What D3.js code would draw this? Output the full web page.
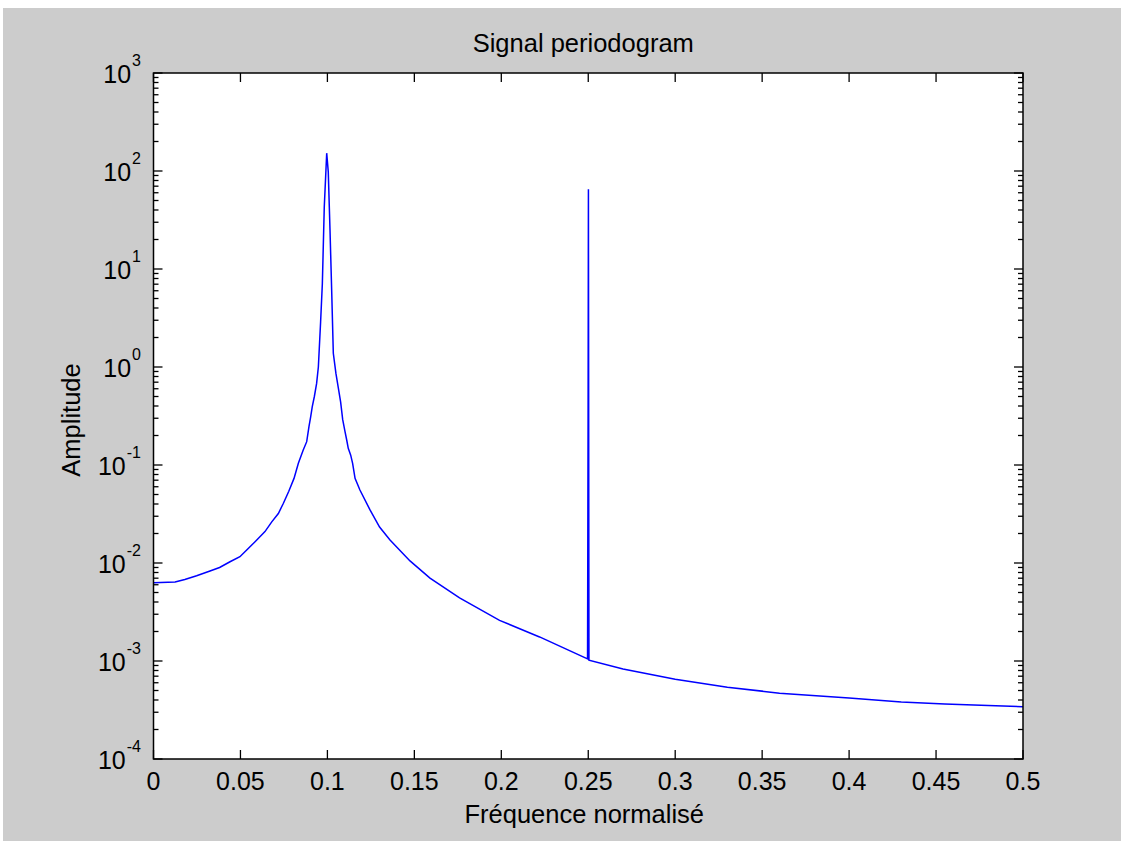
<!DOCTYPE html>
<html>
<head>
<meta charset="utf-8">
<script src="https://cdn.jsdelivr.net/npm/d3@7"></script>
<style>
  html, body { margin: 0; padding: 0; background: #ffffff; }
  svg { display: block; }
  text { font-family: "Liberation Sans", Arial, Helvetica, sans-serif; fill: #000; }
</style>
</head>
<body>
<svg id="chart" width="1123" height="843"></svg>
<script>
// ---- data ----
const frequency = [
  0, 0.0124, 0.018, 0.0248, 0.0325, 0.038, 0.044, 0.0497, 0.0536, 0.0584,
  0.0641, 0.068, 0.0718, 0.0747, 0.0778, 0.0808, 0.0833, 0.0861, 0.0881, 0.0894,
  0.0904, 0.0913, 0.0925, 0.0938, 0.0948, 0.0961, 0.0971, 0.0982, 0.0996, 0.1005,
  0.1011, 0.1015, 0.1025, 0.1034, 0.1049, 0.1063, 0.1076, 0.1088, 0.1101, 0.1111,
  0.112, 0.1134, 0.1145, 0.1159, 0.1187, 0.1245, 0.130, 0.136, 0.1475, 0.159,
  0.176, 0.199, 0.222, 0.2496, 0.2499, 0.2501, 0.2504, 0.27, 0.3, 0.33,
  0.36, 0.4, 0.43, 0.455, 0.48, 0.5
];
const amplitude = [
  6.3e-3, 6.4e-3, 6.8e-3, 7.4e-3, 8.3e-3, 9.0e-3, 1.03e-2, 1.16e-2, 1.36e-2, 1.65e-2,
  2.09e-2, 2.63e-2, 3.2e-2, 4.07e-2, 5.4e-2, 0.073, 0.104, 0.142, 0.173, 0.246,
  0.311, 0.394, 0.50, 0.68, 1.0, 2.9, 7.1, 43, 152, 98,
  43, 25, 5.65, 1.38, 0.86, 0.61, 0.44, 0.29, 0.22, 0.18,
  0.148, 0.126, 0.104, 0.073, 0.0556, 0.0348, 0.0233, 0.0172, 0.0105, 7.0e-3,
  4.4e-3, 2.6e-3, 1.76e-3, 1.05e-3, 0.266, 65, 1.02e-3, 8.3e-4, 6.5e-4, 5.4e-4,
  4.7e-4, 4.2e-4, 3.82e-4, 3.64e-4, 3.52e-4, 3.42e-4
];
const xTickValues = [0, 0.05, 0.1, 0.15, 0.2, 0.25, 0.3, 0.35, 0.4, 0.45, 0.5];
const xTickLabels = ["0", "0.05", "0.1", "0.15", "0.2", "0.25", "0.3", "0.35", "0.4", "0.45", "0.5"];
const yExponents = [-4, -3, -2, -1, 0, 1, 2, 3];
const titleText = "Signal periodogram";
const xLabelText = "Fréquence normalisé";
const yLabelText = "Amplitude";

// ---- layout ----
const W = 1123, H = 843;
const L = 153.5, R = 1023, T = 73, B = 759;
const svg = d3.select("#chart");

svg.append("rect").attr("x", 3).attr("y", 8).attr("width", W - 5).attr("height", H - 10)
  .attr("fill", "#cccccc");

const x = d3.scaleLinear().domain([0, 0.5]).range([L, R]);
const y = d3.scaleLog().domain([1e-4, 1e3]).range([B, T]);

svg.append("rect").attr("x", L).attr("y", T).attr("width", R - L).attr("height", B - T)
  .attr("fill", "#ffffff");

// data line
const data = frequency.map((f, i) => ({ f, a: amplitude[i] }));
const line = d3.line().x(d => x(d.f)).y(d => y(d.a));
svg.append("path").datum(data).attr("d", line)
  .attr("fill", "none").attr("stroke", "#0000ff").attr("stroke-width", 1.5)
  .attr("stroke-linejoin", "miter");

// ticks
const majorLen = 9, minorLen = 5;
const tickG = svg.append("g").attr("stroke", "#000").attr("stroke-width", 1.3);
const minorVals = [];
for (let e = -4; e < 3; e++) for (let k = 2; k <= 9; k++) minorVals.push(k * Math.pow(10, e));

xTickValues.forEach(v => {
  tickG.append("line").attr("x1", x(v)).attr("x2", x(v)).attr("y1", B).attr("y2", B - majorLen);
  tickG.append("line").attr("x1", x(v)).attr("x2", x(v)).attr("y1", T).attr("y2", T + majorLen);
});
yExponents.forEach(e => {
  const yy = y(Math.pow(10, e));
  tickG.append("line").attr("x1", L).attr("x2", L + majorLen).attr("y1", yy).attr("y2", yy);
  tickG.append("line").attr("x1", R).attr("x2", R - majorLen).attr("y1", yy).attr("y2", yy);
});
minorVals.forEach(v => {
  const yy = y(v);
  tickG.append("line").attr("x1", L).attr("x2", L + minorLen).attr("y1", yy).attr("y2", yy);
  tickG.append("line").attr("x1", R).attr("x2", R - minorLen).attr("y1", yy).attr("y2", yy);
});

// box
svg.append("rect").attr("x", L).attr("y", T).attr("width", R - L).attr("height", B - T)
  .attr("fill", "none").attr("stroke", "#000").attr("stroke-width", 1.5);

// x tick labels
svg.append("g").selectAll("text").data(xTickValues).join("text")
  .attr("x", d => x(d)).attr("y", 790)
  .attr("text-anchor", "middle").attr("font-size", 25)
  .text((d, i) => xTickLabels[i]);

// y tick labels: 10^e
const yl = svg.append("g").selectAll("text").data(yExponents).join("text")
  .attr("x", 141).attr("y", d => y(Math.pow(10, d)) + 9.5)
  .attr("text-anchor", "end").attr("font-size", 25);
yl.append("tspan").text("10");
yl.append("tspan").attr("font-size", 16).attr("dy", -17).attr("dx", 1).text(d => String(d));

// title and axis labels
svg.append("text").attr("x", (L + R) / 2 - 5).attr("y", 52).attr("text-anchor", "middle")
  .attr("font-size", 25.5).text(titleText);
svg.append("text").attr("x", (L + R) / 2 - 4).attr("y", 823).attr("text-anchor", "middle")
  .attr("font-size", 25.5).text(xLabelText);
svg.append("text").attr("transform", `translate(80,${(T + B) / 2 + 4}) rotate(-90)`)
  .attr("text-anchor", "middle").attr("font-size", 25.5).text(yLabelText);
</script>
</body>
</html>
